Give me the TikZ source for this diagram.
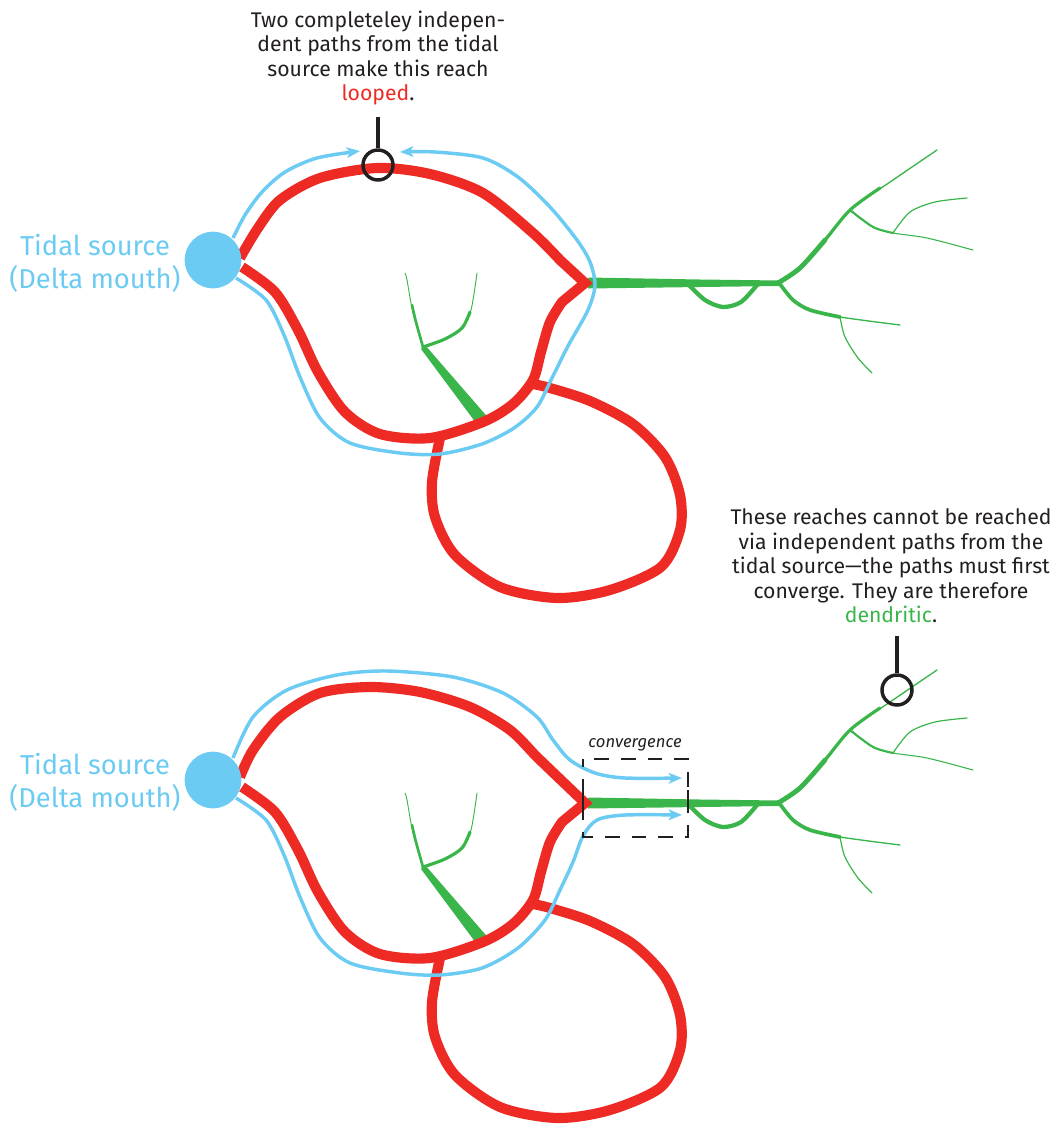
\documentclass[tikz,border=0pt]{standalone}
\usepackage{fontspec}
\setmainfont{Fira Sans}
\usepackage{tikz}
\usetikzlibrary{arrows.meta}

\definecolor{riverred}{HTML}{EE2A24}
\definecolor{tideblue}{HTML}{6CCBF2}
\definecolor{creekgreen}{HTML}{39B54A}
\definecolor{inkblack}{HTML}{231F20}

\begin{document}
\begin{tikzpicture}[x=0.75pt, y=-0.75pt,
  loopriver/.style={draw=riverred, line width=7.6pt, line join=miter},
  tidepath/.style={draw=tideblue, line width=2.6pt, -{Stealth[length=10pt, width=8pt, inset=2.5pt]}},
  creek/.style={draw=creekgreen, line cap=round},
  marker/.style={circle, draw=inkblack, line width=2.6pt, minimum size=22.5pt, inner sep=0pt},
  stem/.style={draw=inkblack, line width=2.6pt},
  note/.style={text=inkblack, align=center, font=\fontsize{15.9}{18.4}\selectfont},
  sourcelabel/.style={text=tideblue, align=center, font=\fontsize{20.5}{25}\selectfont},
  source/.style={circle, fill=tideblue, minimum size=42.5pt, inner sep=0pt}]
\useasboundingbox (0,0) rectangle (1060,1125);

% creeks and side loop, same in both panels
\foreach \dy in {0,520}{
\begin{scope}[shift={(0,\dy)}]
% main channel leaving the loop
\fill[creekgreen] (588,277.5) -- (700,279.5) -- (780,280.5) -- (780,286) -- (700,287) -- (588,288.5) -- cycle;
\draw[creek, line width=3.2pt] plot[smooth] coordinates {(688,284) (705,300) (723,307) (741,302) (757,285)};
% upper branch
\draw[creek, line width=1pt] plot[smooth] coordinates {(778,283) (800,268) (825,240) (850,210) (893,180) (937,150)};
\draw[creek, line width=2.4pt] plot[smooth] coordinates {(778,283) (800,268) (825,240) (850,210) (880,188)};
\draw[creek, line width=3.6pt] plot[smooth] coordinates {(778,283) (800,268) (825,240)};
\draw[creek, line width=0.8pt] plot[smooth] coordinates {(850,210) (873,227) (893,233) (927,238) (973,250)};
\draw[creek, line width=1.6pt] plot[smooth] coordinates {(850,210) (873,227) (893,233)};
\draw[creek, line width=0.9pt] plot[smooth] coordinates {(893,233) (910,212) (935,202) (967,198)};
% lower branch
\draw[creek, line width=1pt] plot[smooth] coordinates {(780,284) (793,300) (810,310) (840,317) (900,325)};
\draw[creek, line width=2.8pt] plot[smooth] coordinates {(780,284) (793,300) (810,310) (840,317)};
\draw[creek, line width=0.9pt] plot[smooth] coordinates {(840,317) (845,337) (858,358) (872,373)};
% creek inside the loop
\fill[creekgreen] (479,427) -- (491,421) -- (425,345) -- (421,349) -- cycle;
\draw[creek, line width=0.7pt] plot[smooth] coordinates {(423,347) (413,313) (407,280) (405,273)};
\draw[creek, line width=2pt] plot[smooth] coordinates {(423,347) (416,322) (412,305)};
\draw[creek, line width=0.7pt] plot[smooth] coordinates {(423,347) (445,339) (462,328) (471,310) (477,273)};
\draw[creek, line width=2.4pt] plot[smooth] coordinates {(423,347) (445,339) (462,328) (470,312)};
% side loop
\draw[loopriver] plot[smooth] coordinates {(533,384) (550,388) (590,401) (633,424) (665,457) (680,495) (680,530) (661,567) (610,590) (557,598) (500,587) (455,555) (435,517) (432,482) (440,438)};
\end{scope}}

% upper panel: looped reach
\draw[tidepath] plot[smooth] coordinates {(233,238) (245,215) (262,192) (285,172) (317,158) (360,151)};
\draw[tidepath] plot[smooth] coordinates {(236,278) (266,300) (284,335) (300,377) (320,418) (350,443) (400,453) (440,454) (482,444) (514,428) (537,407) (552,378) (568,346) (588,310) (595,285) (590,262) (577,240) (550,207) (518,177) (483,158) (435,152) (400,152)};
\draw[loopriver] plot[smooth] coordinates {(240,258) (258,228) (280,200) (320,178) (377,168) (430,174) (483,193) (533,233) (560,260)} -- (585,283)
  -- plot[smooth] coordinates {(562,302) (550,322) (541,352) (533,380) (513,404) (483,422) (430,438) (380,434) (345,412) (318,372) (298,330) (275,292) (242,267)};
\node[source] (srcA) at (213,260) {};
\node[sourcelabel] (srcAlabel) at (95,263) {Tidal source\\(Delta mouth)};
\node[marker] (loopmark) at (378,165) {};
\coordinate (loopstem) at (378,117);
\draw[stem] (loopmark) -- (loopstem);
\node[note] (loopnote) at (378,58) {Two completeley indepen-\\dent paths from the tidal\\source make this reach\\\textcolor{riverred}{looped}.};

% lower panel: dendritic reaches
\draw[tidepath] plot[smooth] coordinates {(233,758) (253,717) (287,690) (337,675) (387,671) (453,677) (503,693) (537,717) (553,740) (570,760) (595,773) (625,778) (682,778)};
\draw[tidepath] plot[smooth] coordinates {(236,798) (266,820) (284,855) (300,897) (320,938) (350,963) (400,973) (440,975) (482,968) (518,948) (545,920) (560,890) (573,862) (583,836) (597,820) (625,815) (682,815)};
\draw[loopriver] plot[smooth] coordinates {(240,777) (253,750) (280,717) (320,693) (370,687) (420,692) (470,707) (510,730) (537,757) (562,781)} -- (585,803)
  -- plot[smooth] coordinates {(562,822) (550,842) (541,872) (533,900) (513,924) (483,942) (430,958) (380,954) (345,932) (318,892) (298,850) (275,812) (242,787)};
\node[source] (srcB) at (213,780) {};
\node[sourcelabel] (srcBlabel) at (95,782) {Tidal source\\(Delta mouth)};
% convergence window
\draw[inkblack, line width=2.2pt, dash pattern=on 11pt off 9pt, dash phase=5pt] (583,759) rectangle (688,837);
\draw[stem, line width=2.2pt] (583,792) -- (583,812);
\draw[stem, line width=2.2pt] (688,790) -- (688,812);
\node[text=inkblack, font=\fontsize{12.5}{14}\selectfont\itshape] (convlabel) at (635,745) {convergence};
\node[marker] (dendmark) at (897,690) {};
\coordinate (dendstem) at (897,636);
\draw[stem] (dendmark) -- (dendstem);
\node[note] (dendnote) at (891,566) {These reaches cannot be reached\\via independent paths from the\\tidal source---the paths must first\\converge. They are therefore\\\textcolor{creekgreen}{dendritic}.};
\end{tikzpicture}
\end{document}
